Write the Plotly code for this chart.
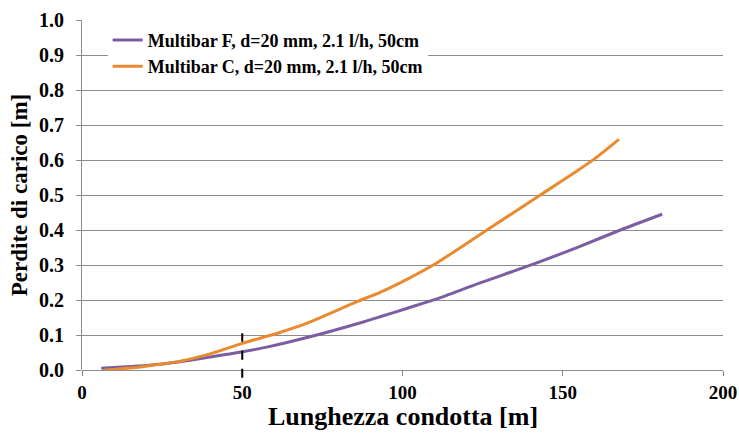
import plotly.graph_objects as go

# Data
f_x = [6, 15, 20, 30, 40, 50, 58, 72, 88, 93, 102, 110, 124, 141, 155, 168, 181]
f_y = [0.005, 0.010, 0.013, 0.023, 0.037, 0.052, 0.066, 0.097, 0.138, 0.152, 0.178, 0.201, 0.248, 0.303, 0.352, 0.400, 0.445]
c_x = [7, 15, 20, 30, 40, 50, 62, 70, 86, 93, 102, 110, 126, 143, 153, 160, 167.5]
c_y = [0.0, 0.006, 0.011, 0.024, 0.046, 0.076, 0.108, 0.133, 0.196, 0.222, 0.262, 0.302, 0.398, 0.500, 0.560, 0.604, 0.659]
f_name = "Multibar F, d=20 mm, 2.1 l/h, 50cm"
c_name = "Multibar C, d=20 mm, 2.1 l/h, 50cm"
x_title = "Lunghezza condotta [m]"
y_title = "Perdite di carico [m]"
marker_x = 50
marker_y = [-0.022, 0.105]

font = "Liberation Serif, Times New Roman, serif"

fig = go.Figure()
fig.add_trace(go.Scatter(x=f_x, y=f_y, mode="lines", name=f_name,
                         line=dict(color="#7B5EA0", width=3, shape="spline", smoothing=0.8)))
fig.add_trace(go.Scatter(x=c_x, y=c_y, mode="lines", name=c_name,
                         line=dict(color="#E98A2F", width=3, shape="spline", smoothing=0.8)))

fig.add_shape(type="line", xref="x", yref="paper", x0=marker_x, x1=marker_x,
              y0=marker_y[0], y1=marker_y[1],
              line=dict(color="black", width=2, dash="dash"))

fig.add_annotation(text=x_title, xref="paper", yref="paper", x=0.5, y=-0.133,
                   xanchor="center", yanchor="middle", showarrow=False, borderpad=0,
                   font=dict(family=font, size=26, weight="bold", color="black"))

fig.update_layout(
    width=739, height=433,
    margin=dict(l=82, r=16, t=20, b=63, autoexpand=False),
    paper_bgcolor="white", plot_bgcolor="white",
    font=dict(family=font, color="black"),
    showlegend=True,
    legend=dict(x=0.04, y=0.995, xanchor="left", yanchor="top",
                bgcolor="white", font=dict(family=font, size=18, color="black", weight="bold"),
                tracegroupgap=0, itemwidth=30),
    xaxis=dict(range=[0, 200], tickvals=[0, 50, 100, 150, 200], automargin=False,
               showgrid=False, zeroline=False, showline=False,
               ticks="outside", ticklen=5, tickcolor="#888",
               tickfont=dict(family=font, size=19, weight="bold")),
    yaxis=dict(range=[0, 1.0], dtick=0.1, tickformat=".1f", automargin=False,
               showgrid=True, gridcolor="#8c8c8c", gridwidth=1,
               zeroline=True, zerolinecolor="#8c8c8c", zerolinewidth=1,
               showline=True, linecolor="#8c8c8c", linewidth=1,
               ticks="outside", ticklen=5, tickcolor="#8c8c8c", ticklabelstandoff=8,
               tickfont=dict(family=font, size=20, weight="bold"),
               title=dict(text=y_title, font=dict(family=font, size=23, weight="bold"), standoff=4)),
)

fig.write_html("out.html", config={"displayModeBar": False},
               post_script="document.body.style.margin='0';document.body.style.overflow='hidden';")
